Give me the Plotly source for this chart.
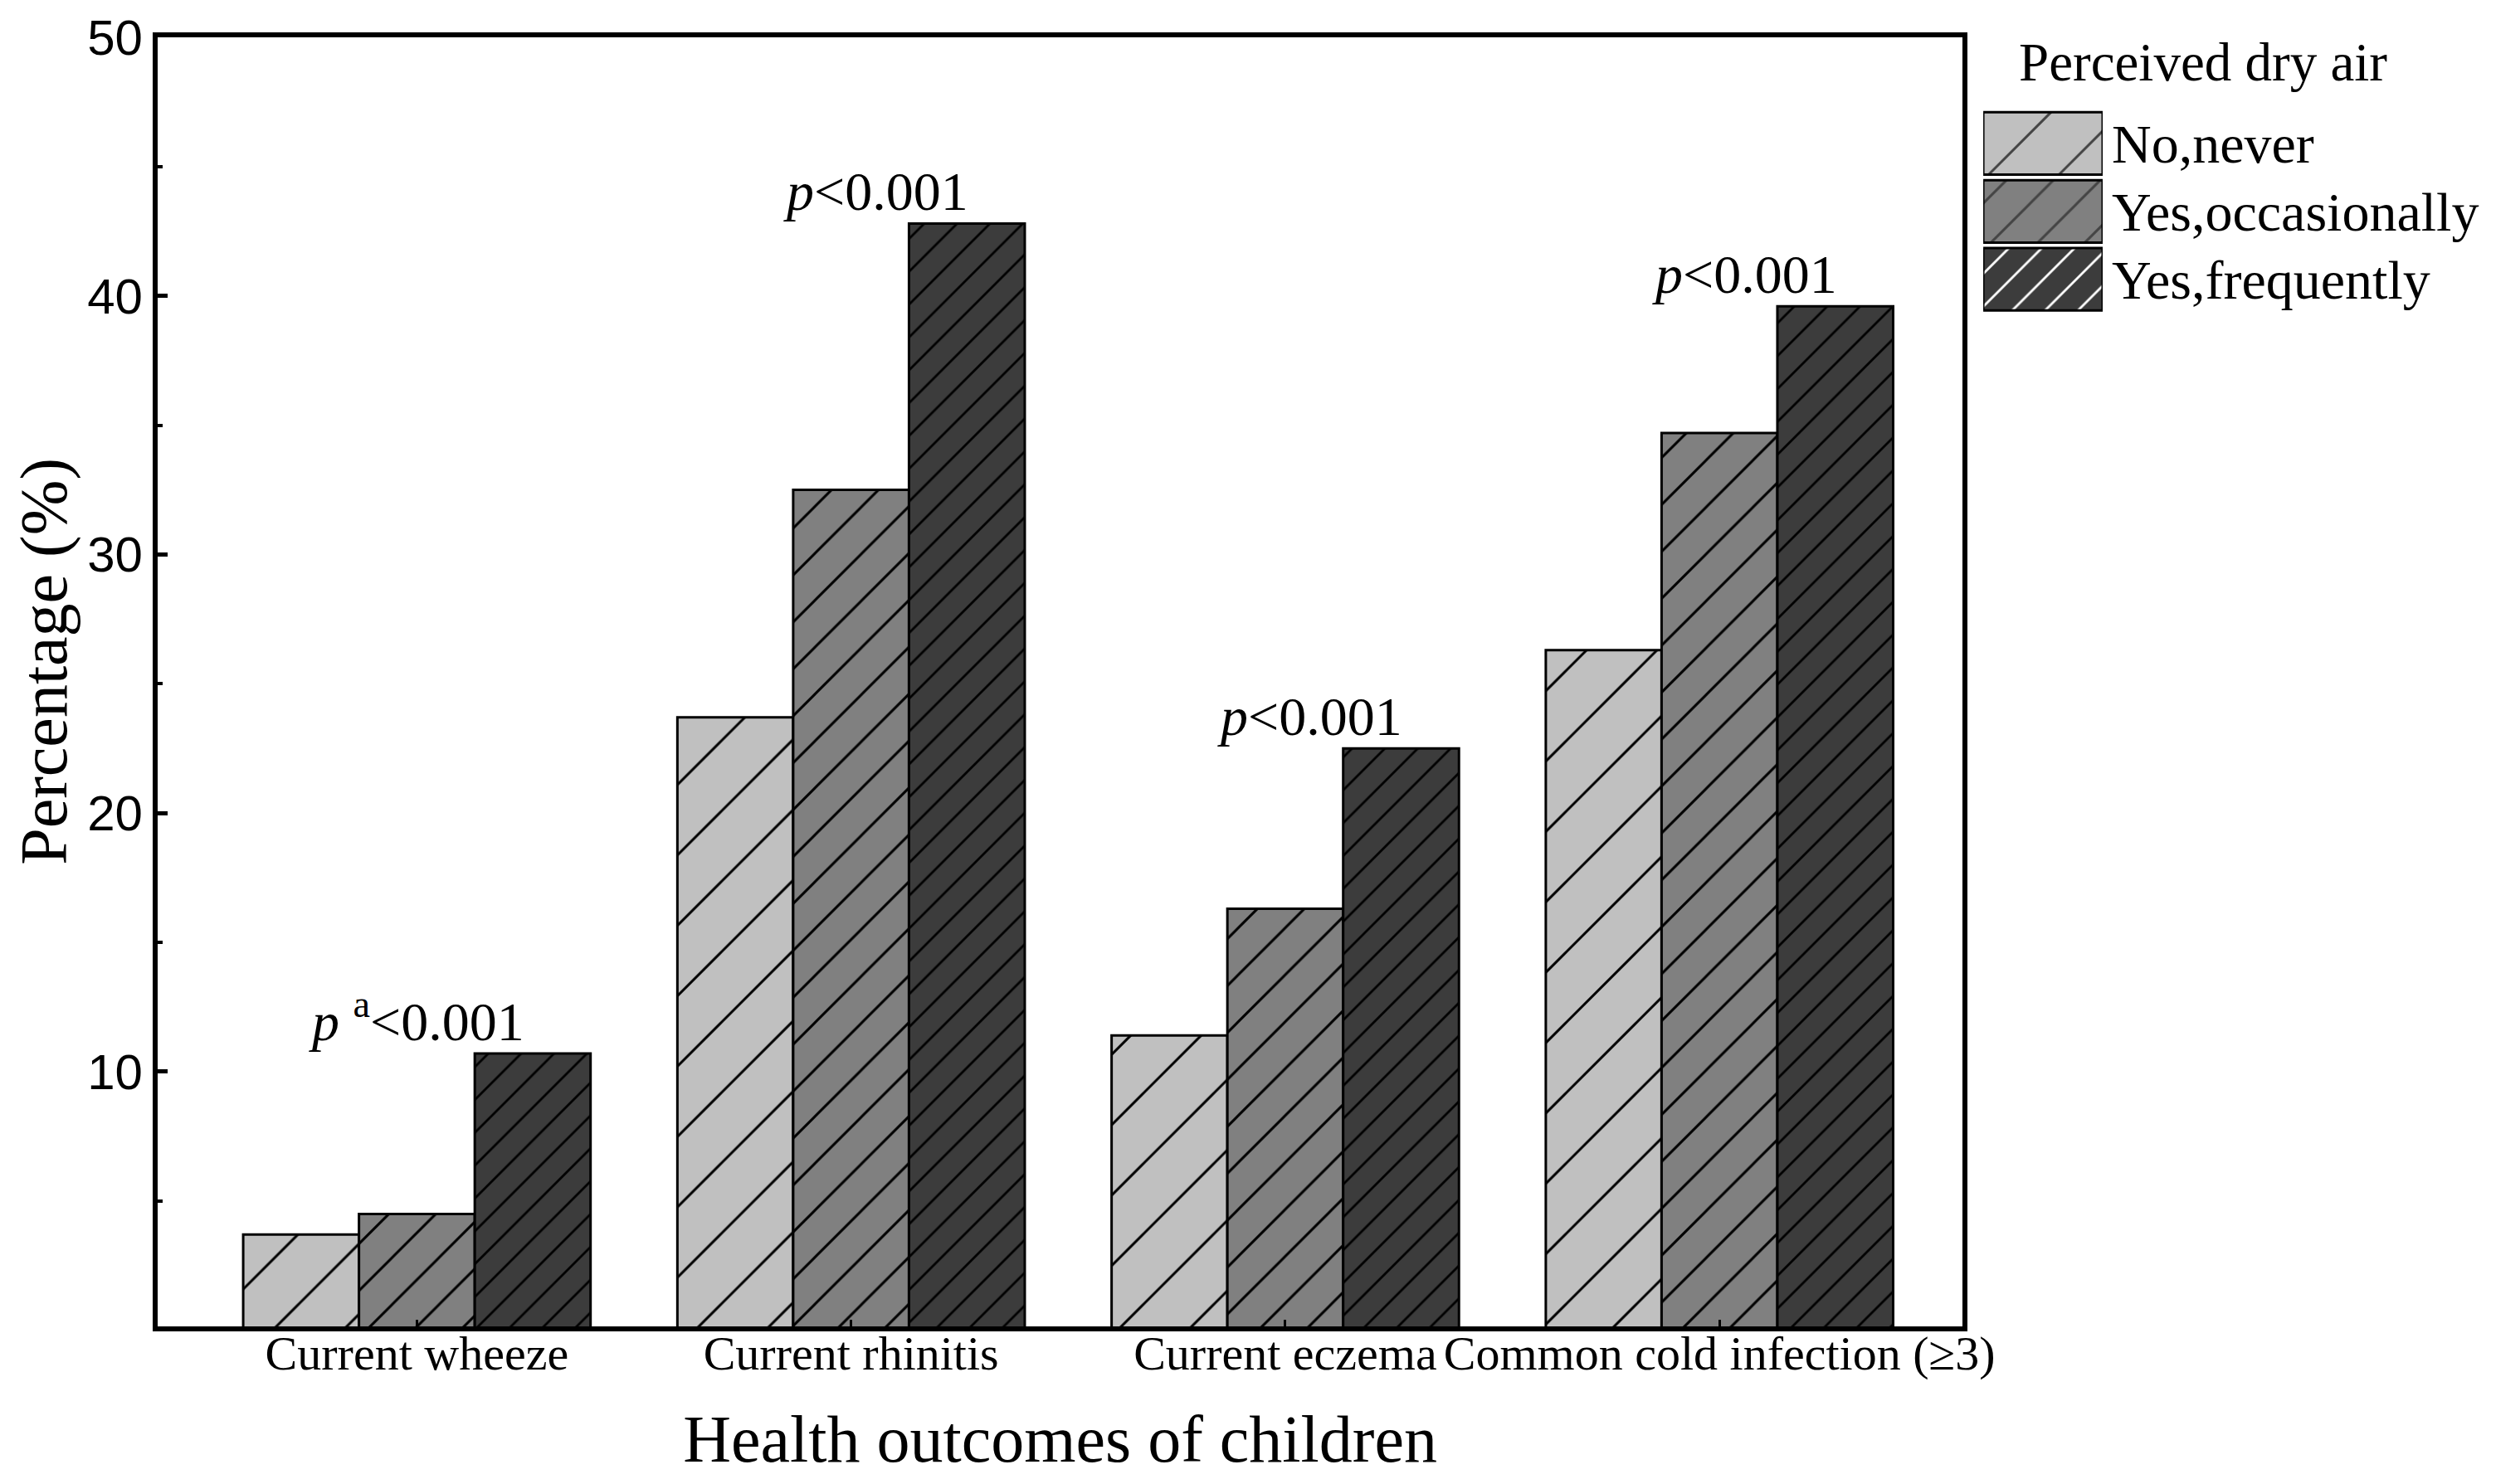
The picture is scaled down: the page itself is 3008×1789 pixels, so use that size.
import plotly.graph_objects as go

# Values (%)
categories = ["Current wheeze", "Current rhinitis", "Current eczema", "Common cold infection (≥3)"]
series_names = ["No,never", "Yes,occasionally", "Yes,frequently"]
no_never = [3.7, 23.7, 11.4, 26.3]
yes_occasionally = [4.5, 32.5, 16.3, 34.7]
yes_frequently = [10.7, 42.8, 22.5, 39.6]
p_labels = ["<i>p</i> <sup>a</sup>&lt;0.001", "<i>p</i>&lt;0.001", "<i>p</i>&lt;0.001", "<i>p</i>&lt;0.001"]

fills = ["#c0c0c0", "#808080", "#3c3c3c"]
hatch_size = [60, 40, 28]
hatch_solid = [0.05, 0.075, 0.1]
serif = "Liberation Serif"

fig = go.Figure()
for name, vals, fc, sz, so in zip(series_names, [no_never, yes_occasionally, yes_frequently],
                                  fills, hatch_size, hatch_solid):
    fig.add_trace(go.Bar(
        x=categories, y=vals, name=name, showlegend=False,
        marker=dict(color=fc, line=dict(color="black", width=3),
                    pattern=dict(shape="/", fgcolor="black", fgopacity=1, fillmode="overlay",
                                 size=sz, solidity=so)),
    ))

# hand-made legend: one bar per swatch on a small side axis
fig.add_trace(go.Bar(
    x=[1, 1, 1], y=series_names, orientation="h", xaxis="x2", yaxis="y2",
    width=0.92, showlegend=False, hoverinfo="skip", cliponaxis=False,
    marker=dict(color=fills, line=dict(color="black", width=3),
                pattern=dict(shape="/", fgcolor="black", fgopacity=1, fillmode="overlay",
                             size=hatch_size, solidity=hatch_solid)),
))

for i, cat in enumerate(categories):
    fig.add_annotation(x=cat, y=yes_frequently[i], text=p_labels[i], showarrow=False,
                       xanchor="center", yanchor="bottom", xshift=0 if i == 0 else 30,
                       yshift=0, font=dict(family=serif, size=66, color="black"))

fig.add_annotation(x=0.956, y=0.981, xref="paper", yref="paper", text="Perceived dry air",
                   showarrow=False, xanchor="left", yanchor="middle",
                   font=dict(family=serif, size=65, color="black"))

# y axis title placed by hand (it sits a little above the plot's centre)
fig.add_annotation(x=-0.0586, y=0.516, xref="paper", yref="paper", text="Percentage (%)",
                   textangle=-90, showarrow=False, xanchor="center", yanchor="middle",
                   font=dict(family=serif, size=80, color="black"))

fig.update_layout(
    width=3008, height=1789,
    margin=dict(l=182, r=482, t=37, b=198),
    paper_bgcolor="white", plot_bgcolor="white",
    barmode="group", bargap=0.2, bargroupgap=0,
    xaxis=dict(
        domain=[0, 0.928], range=[-0.597, 3.56], automargin=False,
        showline=True, linecolor="black", linewidth=6, mirror=True,
        ticks="inside", ticklen=8, tickwidth=3, tickcolor="black",
        ticklabelstandoff=-24,
        showgrid=False, zeroline=False,
        tickfont=dict(family=serif, size=58, color="black"),
        title=dict(text="Health outcomes of children", standoff=45,
                   font=dict(family=serif, size=80, color="black")),
    ),
    yaxis=dict(
        range=[0.15, 50], dtick=10, tick0=0, automargin=False,
        showline=True, linecolor="black", linewidth=6, mirror=True,
        ticks="inside", ticklen=12, tickwidth=5, tickcolor="black",
        minor=dict(ticks="inside", ticklen=6, tickwidth=4, dtick=5, tick0=0, tickcolor="black"),
        showgrid=False, zeroline=False, ticklabeloverflow="allow",
        tickfont=dict(family="Liberation Sans", size=60, color="black"),
    ),
    xaxis2=dict(domain=[0.9386, 1], range=[0, 1], anchor="y2", visible=False, fixedrange=True),
    yaxis2=dict(domain=[0.786, 0.944], anchor="x2", side="right", autorange="reversed",
                showline=False, showgrid=False, zeroline=False, ticks="", automargin=False,
                ticklabelstandoff=10, ticklabeloverflow="allow",
                tickfont=dict(family=serif, size=66, color="black")),
)

fig.write_html("out.html")
